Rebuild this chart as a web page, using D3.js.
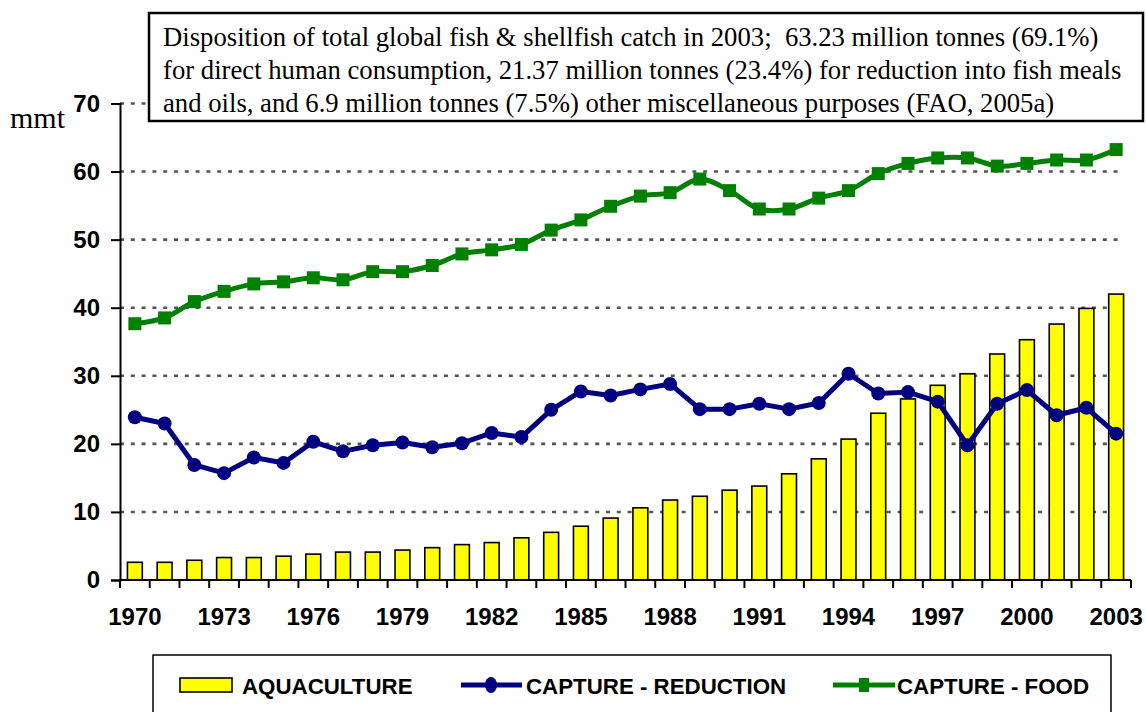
<!DOCTYPE html>
<html>
<head>
<meta charset="utf-8">
<script src="https://cdn.jsdelivr.net/npm/d3@7"></script>
<style>
  html, body { margin: 0; padding: 0; background: #fff; }
  svg { display: block; }
</style>
</head>
<body>
<svg id="chart" width="1146" height="712"></svg>
<script>
// ---- data ----
const years = d3.range(1970, 2004);
const aquaculture = [2.6, 2.6, 2.9, 3.3, 3.3, 3.5, 3.8, 4.1, 4.1, 4.4, 4.75, 5.2,
  5.5, 6.2, 7.0, 7.9, 9.1, 10.6, 11.75, 12.3, 13.2, 13.8, 15.6, 17.8, 20.7,
  24.5, 26.6, 28.6, 30.3, 33.2, 35.3, 37.6, 39.9, 42.0];
const captureReduction = [23.9, 23.0, 16.9, 15.7, 18.0, 17.2, 20.3, 18.9, 19.8, 20.2, 19.5, 20.1,
  21.6, 21.0, 25.0, 27.7, 27.1, 28.0, 28.8, 25.1, 25.1, 25.9, 25.1, 26.0, 30.3,
  27.4, 27.6, 26.2, 19.8, 25.9, 27.9, 24.2, 25.3, 21.5];
const captureFood = [37.65, 38.5, 40.9, 42.4, 43.5, 43.8, 44.4, 44.1, 45.3, 45.3, 46.2, 47.9,
  48.5, 49.3, 51.4, 52.9, 54.9, 56.4, 56.9, 58.9, 57.2, 54.5, 54.5, 56.1, 57.2,
  59.7, 61.2, 62.0, 62.0, 60.8, 61.2, 61.7, 61.7, 63.23];
const yTicks = [0, 10, 20, 30, 40, 50, 60, 70];
const xLabelYears = years.filter((d, i) => i % 3 === 0);
const seriesNames = ["AQUACULTURE", "CAPTURE - REDUCTION", "CAPTURE - FOOD"];
const unitLabel = "mmt";
const noteLines = [
  "Disposition of total global fish & shellfish catch in 2003;  63.23 million tonnes (69.1%)",
  "for direct human consumption, 21.37 million tonnes (23.4%) for reduction into fish meals",
  "and oils, and 6.9 million tonnes (7.5%) other miscellaneous purposes (FAO, 2005a)"
];

// ---- layout ----
const svg = d3.select("#chart");
const pLeft = 120, pRight = 1131, pTop = 103.5, pBottom = 580;
const sans = "'Liberation Sans', Arial, sans-serif";
const serif = "'Liberation Serif', 'Times New Roman', Times, serif";

const x = d3.scaleBand().domain(years).range([pLeft, pRight]).paddingInner(0.5).paddingOuter(0.25);
const y = d3.scaleLinear().domain([0, 70]).range([pBottom, pTop]);
const cx = d => x(d) + x.bandwidth() / 2;

// gridlines
svg.append("g").selectAll("line")
  .data(yTicks.filter(d => d > 0))
  .join("line")
  .attr("x1", pLeft).attr("x2", 1122)
  .attr("y1", d => y(d)).attr("y2", d => y(d))
  .attr("stroke", "#555").attr("stroke-width", 2.6)
  .attr("stroke-dasharray", "4 6.8");

// bars
svg.append("g").selectAll("rect")
  .data(years.map((yr, i) => ({ yr, v: aquaculture[i] })))
  .join("rect")
  .attr("x", d => x(d.yr)).attr("width", x.bandwidth())
  .attr("y", d => y(d.v)).attr("height", d => y(0) - y(d.v))
  .attr("fill", "#ffff00").attr("stroke", "#000").attr("stroke-width", 1.6);

// blue line
const redData = years.map((yr, i) => ({ yr, v: captureReduction[i] }));
svg.append("path").datum(redData)
  .attr("fill", "none").attr("stroke", "#000080").attr("stroke-width", 5)
  .attr("stroke-linejoin", "round")
  .attr("d", d3.line().x(d => cx(d.yr)).y(d => y(d.v)));
svg.append("g").selectAll("circle").data(redData).join("circle")
  .attr("cx", d => cx(d.yr)).attr("cy", d => y(d.v)).attr("r", 7)
  .attr("fill", "#000080");

// green line
const foodData = years.map((yr, i) => ({ yr, v: captureFood[i] }));
svg.append("path").datum(foodData)
  .attr("fill", "none").attr("stroke", "#008000").attr("stroke-width", 5)
  .attr("d", d3.line().curve(d3.curveCatmullRom.alpha(0.5)).x(d => cx(d.yr)).y(d => y(d.v)));
svg.append("g").selectAll("rect").data(foodData).join("rect")
  .attr("x", d => cx(d.yr) - 6.5).attr("y", d => y(d.v) - 6.5)
  .attr("width", 13).attr("height", 13).attr("fill", "#008000");

// y axis
const yAxis = svg.append("g").attr("transform", `translate(${pLeft},0)`)
  .call(d3.axisLeft(y).tickValues(yTicks).tickSize(9).tickPadding(11));
yAxis.select(".domain").attr("stroke", "#000").attr("stroke-width", 2);
yAxis.selectAll(".tick line").attr("stroke", "#000").attr("stroke-width", 2);
yAxis.selectAll("text").attr("font-family", sans).attr("font-weight", "bold")
  .attr("font-size", 24).attr("fill", "#000");

// x axis: boundary ticks + labels every 3 years
const step = x.step();
const boundaries = years.map(d => x(d) - step * x.paddingInner() / 2).concat([x(years[years.length - 1]) + x.bandwidth() + step * x.paddingInner() / 2]);
svg.append("line").attr("x1", pLeft).attr("x2", pRight).attr("y1", pBottom).attr("y2", pBottom)
  .attr("stroke", "#000").attr("stroke-width", 2);
svg.append("g").selectAll("line").data(boundaries).join("line")
  .attr("x1", d => d).attr("x2", d => d).attr("y1", pBottom).attr("y2", pBottom + 8)
  .attr("stroke", "#000").attr("stroke-width", 2);
const xAxis = svg.append("g").attr("transform", `translate(0,${pBottom})`)
  .call(d3.axisBottom(x).tickValues(xLabelYears).tickSize(0).tickPadding(28));
xAxis.select(".domain").remove();
xAxis.selectAll("text").attr("font-family", sans).attr("font-weight", "bold")
  .attr("font-size", 24).attr("fill", "#000");

// unit label
svg.append("text").attr("x", 10).attr("y", 128).text(unitLabel)
  .attr("font-family", serif).attr("font-size", 30).attr("fill", "#000");

// annotation box
svg.append("rect").attr("x", 149).attr("y", 13).attr("width", 994).attr("height", 108)
  .attr("fill", "#fff").attr("stroke", "#000").attr("stroke-width", 2.5);
svg.append("g").selectAll("text").data(noteLines).join("text")
  .attr("x", 163).attr("y", (d, i) => 46 + i * 33)
  .attr("font-family", serif).attr("font-size", 26.7).attr("fill", "#000")
  .attr("xml:space", "preserve").style("white-space", "pre")
  .text(d => d);

// legend
svg.append("rect").attr("x", 153).attr("y", 655).attr("width", 958).attr("height", 70)
  .attr("fill", "#fff").attr("stroke", "#000").attr("stroke-width", 1.5);
const lg = svg.append("g").attr("font-family", sans).attr("font-weight", "bold")
  .attr("font-size", 22.3).attr("fill", "#000");
lg.append("rect").attr("x", 180).attr("y", 678).attr("width", 52).attr("height", 14)
  .attr("fill", "#ffff00").attr("stroke", "#000").attr("stroke-width", 1.6);
lg.append("text").attr("x", 242).attr("y", 694).text(seriesNames[0]);
lg.append("line").attr("x1", 461).attr("x2", 522).attr("y1", 685).attr("y2", 685)
  .attr("stroke", "#000080").attr("stroke-width", 5);
lg.append("ellipse").attr("cx", 491).attr("cy", 685).attr("rx", 6).attr("ry", 8).attr("fill", "#000080");
lg.append("text").attr("x", 526).attr("y", 694).text(seriesNames[1]);
lg.append("line").attr("x1", 833).attr("x2", 895).attr("y1", 685).attr("y2", 685)
  .attr("stroke", "#008000").attr("stroke-width", 5);
lg.append("rect").attr("x", 859).attr("y", 678).attr("width", 10).attr("height", 14).attr("fill", "#008000");
lg.append("text").attr("x", 897).attr("y", 694).text(seriesNames[2]);
</script>
</body>
</html>
